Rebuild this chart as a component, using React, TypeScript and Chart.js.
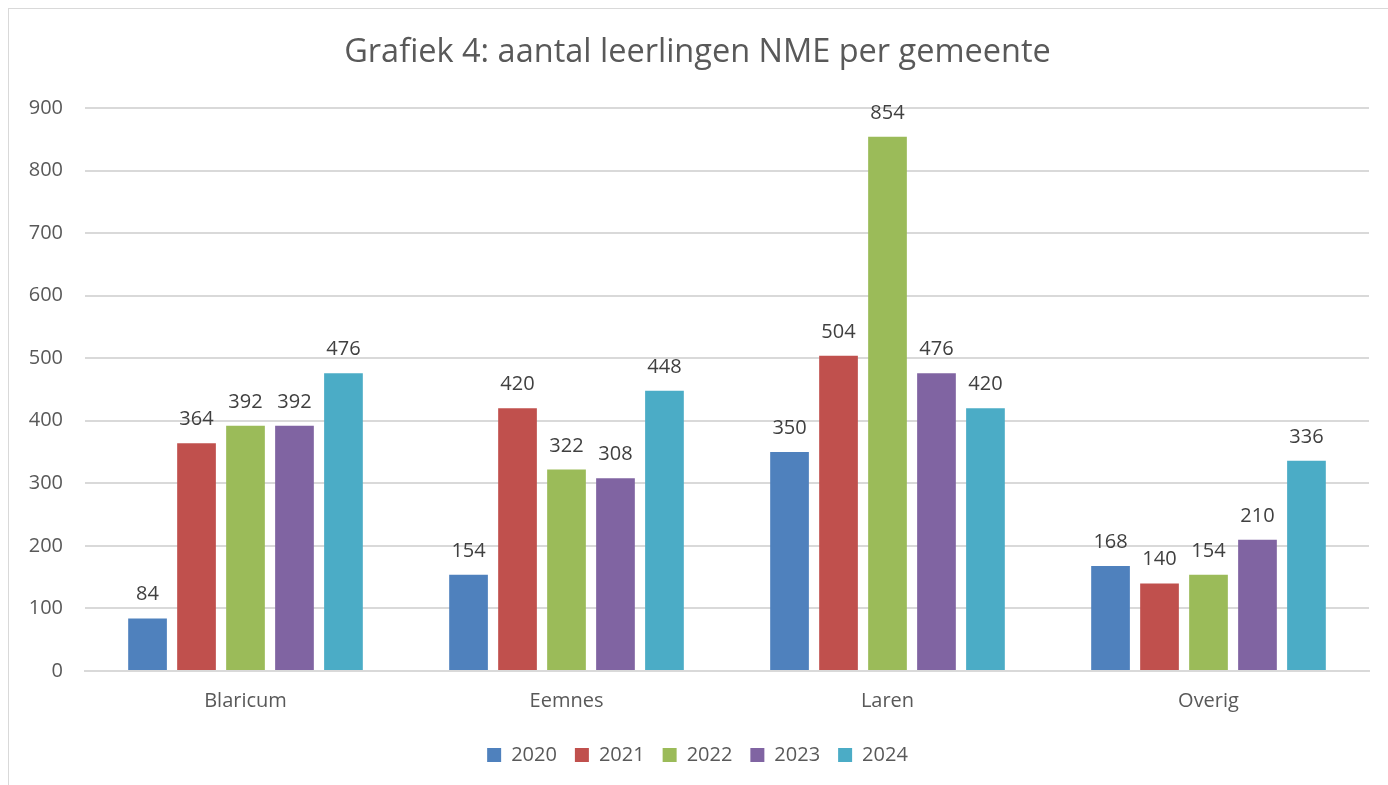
import React, { useEffect, useRef } from "react";
import { Chart, registerables } from "chart.js";

Chart.register(...registerables);

const categories = ["Blaricum", "Eemnes", "Laren", "Overig"];
const years = ["2020", "2021", "2022", "2023", "2024"];
const values2020 = [84, 154, 350, 168];
const values2021 = [364, 420, 504, 140];
const values2022 = [392, 322, 854, 154];
const values2023 = [392, 308, 476, 210];
const values2024 = [476, 448, 420, 336];
const seriesValues = [values2020, values2021, values2022, values2023, values2024];
const colors = ["#4F81BD", "#C0504D", "#9BBB59", "#8064A2", "#4BACC6"];
const yTicks = [0, 100, 200, 300, 400, 500, 600, 700, 800, 900];

const FONT = "'Open Sans', sans-serif";
const TEXT = "#595959";

const valueLabels = {
  id: "valueLabels",
  afterDatasetsDraw(chart: any) {
    const ctx = chart.ctx;
    ctx.save();
    ctx.font = `20px ${FONT}`;
    ctx.fillStyle = "#404040";
    ctx.textAlign = "center";
    ctx.textBaseline = "alphabetic";
    chart.data.datasets.forEach((ds: any, i: number) => {
      const meta = chart.getDatasetMeta(i);
      meta.data.forEach((bar: any, j: number) => {
        ctx.fillText(String(ds.data[j]), bar.x, bar.y - 18);
      });
    });
    ctx.restore();
  },
};

export default function App() {
  const ref = useRef<HTMLCanvasElement>(null);
  useEffect(() => {
    document.documentElement.style.overflow = "hidden";
    const chart = new Chart(ref.current!, {
      type: "bar",
      data: {
        labels: categories,
        datasets: years.map((y, i) => ({
          label: y,
          data: seriesValues[i],
          backgroundColor: colors[i],
          categoryPercentage: 0.763,
          barPercentage: 0.79,
        })),
      },
      options: {
        responsive: false,
        animation: false,
        layout: { padding: { left: 17, right: 20, top: 0, bottom: 10 } },
        plugins: {
          title: {
            display: true,
            text: "Grafiek 4: aantal leerlingen NME per gemeente",
            color: TEXT,
            font: { family: FONT, size: 32.5, weight: "normal" },
            padding: { top: 24, bottom: 36 },
          },
          legend: {
            position: "bottom",
            labels: {
              color: TEXT,
              font: { family: FONT, size: 20 },
              boxWidth: 14,
              boxHeight: 14,
              padding: 18,
            },
          },
          tooltip: { enabled: false },
        },
        scales: {
          x: {
            grid: { display: false, drawTicks: false },
            border: { color: "#d9d9d9", width: 2 },
            ticks: { color: TEXT, font: { family: FONT, size: 20 }, padding: 18 },
            afterFit: (s: any) => { s.height = 56; },
          },
          y: {
            min: 0,
            max: 900,
            afterBuildTicks: (s: any) => { s.ticks = yTicks.map((v) => ({ value: v })); },
            grid: { color: "#d9d9d9", lineWidth: 2, drawTicks: false },
            border: { display: false },
            ticks: { color: TEXT, font: { family: FONT, size: 20 }, padding: 22 },
            afterFit: (s: any) => { s.width = 59; },
          },
        },
      },
      plugins: [valueLabels],
    });
    return () => chart.destroy();
  }, []);
  return (
    <div
      style={{
        position: "absolute",
        left: 8,
        top: 8,
        width: 1400,
        height: 800,
        border: "1px solid #d9d9d9",
        background: "#fff",
      }}
    >
      <canvas ref={ref} width={1380} height={776} style={{ display: "block" }} />
    </div>
  );
}
